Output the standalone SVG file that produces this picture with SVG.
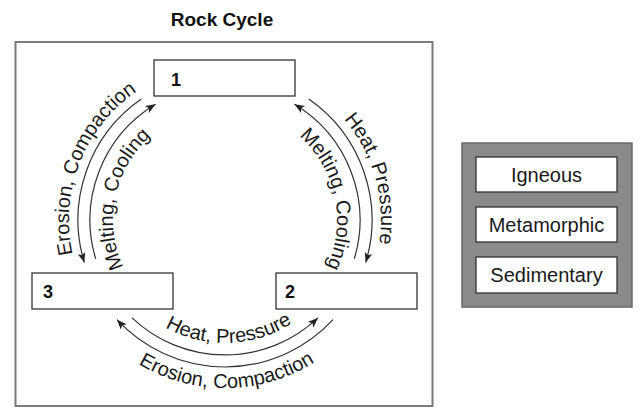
<svg xmlns="http://www.w3.org/2000/svg" width="641" height="418" viewBox="0 0 641 418">
  <style>
    .frame { fill: #ffffff; stroke: #7a7a7a; stroke-width: 2; }
    .node { fill: #ffffff; stroke: #333333; stroke-width: 1.3; }
    .num { font-family: "Liberation Sans", Arial, sans-serif; font-weight: bold; font-size: 18px; fill: #111111; }
    .title { font-family: "Liberation Sans", Arial, sans-serif; font-weight: bold; font-size: 19px; fill: #111111; text-anchor: middle; }
    .lbl { font-family: "Liberation Sans", Arial, sans-serif; font-size: 20px; fill: #1a1a1a; }
    .legend { font-family: "Liberation Sans", Arial, sans-serif; font-size: 20px; fill: #1a1a1a; text-anchor: middle; }
    .arc { fill: none; stroke: #333333; stroke-width: 1.2; }
    .panel { fill: #8a8a8a; stroke: #6a6a6a; stroke-width: 1.5; }
  </style>
  <defs>
    <marker id="ah" viewBox="0 0 10 8" refX="10" refY="4" markerWidth="10" markerHeight="8" markerUnits="userSpaceOnUse" orient="auto">
      <path d="M0,0 L10,4 L0,8 L2.5,4 z" fill="#222222"/>
    </marker>
    <path id="tp-lo" d="M102.9,317.1 A156,156 0 0 1 201.9,65.7"/>
    <path id="tp-li" d="M150.4,303.5 A112,112 0 0 1 190.0,113.6"/>
    <path id="tp-ro" d="M263.3,68.8 A156,156 0 0 1 336.8,328.8"/>
    <path id="tp-ri" d="M259.8,113.5 A112,112 0 0 1 299.8,303.4"/>
    <path id="tp-bi" d="M120.7,285.2 A123,123 0 0 0 333.6,277.7"/>
    <path id="tp-bo" d="M80.4,305.5 A168,168 0 0 0 371.4,302.5"/>
  </defs>

  <text class="title" x="222" y="26">Rock Cycle</text>

  <rect class="frame" x="15.5" y="42" width="417" height="364"/>

  <g id="node-1">
    <rect class="node" x="154" y="60" width="141" height="36"/>
    <text class="num" x="171" y="86">1</text>
  </g>
  <g id="node-2">
    <rect class="node" x="276" y="273" width="141" height="36"/>
    <text class="num" x="285" y="298">2</text>
  </g>
  <g id="node-3">
    <rect class="node" x="32" y="273" width="141" height="36"/>
    <text class="num" x="43" y="298">3</text>
  </g>

  <g id="connectors">
    <path class="arc" d="M141.3,99.1 A147,147 0 0 0 84.3,262.5" marker-end="url(#ah)"/>
    <path class="arc" d="M95.7,258.8 A135,135 0 0 1 155.5,104.3" marker-end="url(#ah)"/>
    <path class="arc" d="M308.7,99.1 A147,147 0 0 1 365.7,262.5" marker-end="url(#ah)"/>
    <path class="arc" d="M354.3,258.8 A135,135 0 0 0 294.5,104.3" marker-end="url(#ah)"/>
    <path class="arc" d="M132.1,317.9 A135,135 0 0 0 317.9,317.9" marker-end="url(#ah)"/>
    <path class="arc" d="M333,319.7 A147,147 0 0 1 117,319.7" marker-end="url(#ah)"/>

    <text class="lbl"><textPath href="#tp-lo" startOffset="50%" text-anchor="middle">Erosion, Compaction</textPath></text>
    <text class="lbl"><textPath href="#tp-li" startOffset="50%" text-anchor="middle">Melting, Cooling</textPath></text>
    <text class="lbl"><textPath href="#tp-ro" startOffset="50%" text-anchor="middle">Heat, Pressure</textPath></text>
    <text class="lbl"><textPath href="#tp-ri" startOffset="50%" text-anchor="middle">Melting, Cooling</textPath></text>
    <text class="lbl"><textPath href="#tp-bi" startOffset="50%" text-anchor="middle">Heat, Pressure</textPath></text>
    <text class="lbl"><textPath href="#tp-bo" startOffset="50%" text-anchor="middle">Erosion, Compaction</textPath></text>
  </g>

  <g id="legend">
    <rect class="panel" x="462" y="143" width="170" height="164"/>
    <g id="igneous">
      <rect class="node" x="476" y="157" width="141" height="35"/>
      <text class="legend" x="546.5" y="182">Igneous</text>
    </g>
    <g id="metamorphic">
      <rect class="node" x="476" y="207" width="141" height="35"/>
      <text class="legend" x="546.5" y="232">Metamorphic</text>
    </g>
    <g id="sedimentary">
      <rect class="node" x="476" y="257" width="141" height="36"/>
      <text class="legend" x="546.5" y="282">Sedimentary</text>
    </g>
  </g>
</svg>
